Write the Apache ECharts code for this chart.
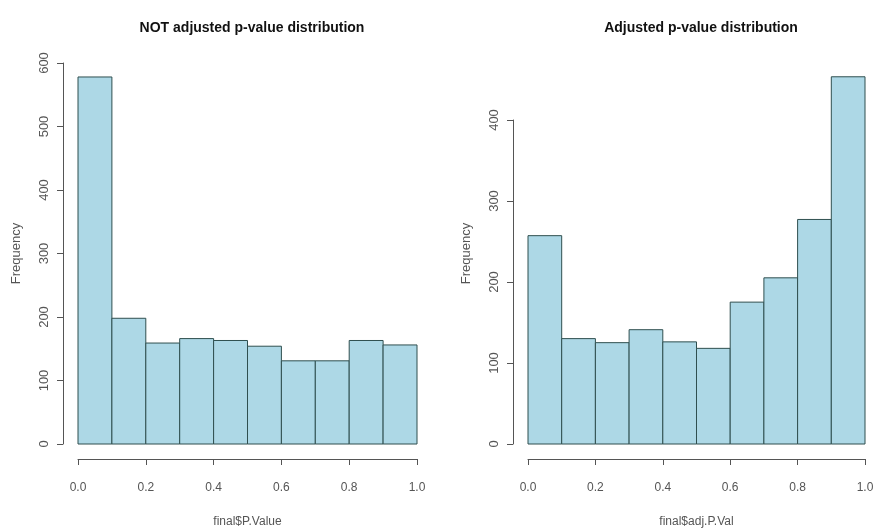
<!DOCTYPE html>
<html>
<head>
<meta charset="utf-8">
<script src="https://cdn.jsdelivr.net/npm/echarts@6/dist/echarts.min.js"></script>
<style>html,body{margin:0;padding:0;background:#fff}#c{width:874px;height:531px}</style>
</head>
<body>
<div id="c"></div>
<script>
var binStarts = [0.0, 0.1, 0.2, 0.3, 0.4, 0.5, 0.6, 0.7, 0.8, 0.9];
var binEnds   = [0.1, 0.2, 0.3, 0.4, 0.5, 0.6, 0.7, 0.8, 0.9, 1.0];
var notAdjustedCounts = [578, 198, 159, 166, 163, 154, 131, 131, 163, 156];
var adjustedCounts    = [257, 130, 125, 141, 126, 118, 175, 205, 277, 453];
var titles = ['NOT adjusted p-value distribution', 'Adjusted p-value distribution'];
var xNames = ['final$P.Value', 'final$adj.P.Val'];
var yName = 'Frequency';

function toData(counts){
  return counts.map(function(c,i){ return [binStarts[i], binEnds[i], c]; });
}
function renderBar(params, api){
  var p0 = api.coord([api.value(0), api.value(2)]);
  var p1 = api.coord([api.value(1), 0]);
  return {
    type: 'rect',
    shape: {x: p0[0], y: p0[1], width: p1[0]-p0[0], height: p1[1]-p0[1]},
    style: {fill: '#ADD8E6', stroke: '#2F4F4F', lineWidth: 1}
  };
}
var axisColor = '#555';
var font = 'Liberation Sans';
function xAxisDef(gi, nameIdx){
  return {
    type: 'value', gridIndex: gi, min: 0, max: 1, interval: 0.2, offset: 15,
    axisLine: {show: true, onZero: false, lineStyle: {color: axisColor}},
    axisTick: {show: true, length: 6, lineStyle: {color: axisColor}},
    axisLabel: {margin: 23, color: '#555', fontSize: 12, fontFamily: font,
                formatter: function(v){ return v.toFixed(1); }},
    splitLine: {show: false},
    name: xNames[nameIdx], nameLocation: 'middle', nameGap: 57,
    nameTextStyle: {color: '#555', fontSize: 12, fontFamily: font}
  };
}
function yAxisDef(gi, max, interval, withName){
  return {
    type: 'value', gridIndex: gi, min: 0, max: max, interval: interval, offset: 15,
    axisLine: {show: true, onZero: false, lineStyle: {color: axisColor}},
    axisTick: {show: true, length: 6, lineStyle: {color: axisColor}},
    axisLabel: {rotate: 90, margin: 12, color: '#555', fontSize: 13, fontFamily: font},
    splitLine: {show: false},
    name: withName ? yName : '', nameLocation: 'middle', nameGap: 40, nameRotate: 90,
    nameTextStyle: {color: '#555', fontSize: 13, fontFamily: font}
  };
}
var chart = echarts.init(document.getElementById('c'));
chart.setOption({
  backgroundColor: '#fff',
  animation: false,
  title: [
    {text: titles[0], left: 247, top: 16, textAlign: 'center',
     textStyle: {fontSize: 14, fontWeight: 'bold', color: '#111', fontFamily: font}},
    {text: titles[1], left: 696, top: 16, textAlign: 'center',
     textStyle: {fontSize: 14, fontWeight: 'bold', color: '#111', fontFamily: font}}
  ],
  grid: [
    {left: 78, width: 339, top: 63, height: 381, outerBoundsMode: 'none', containLabel: false},
    {left: 528, width: 337, top: 63, height: 381, outerBoundsMode: 'none', containLabel: false},
    {left: 528, width: 337, top: 120, height: 324, outerBoundsMode: 'none', containLabel: false}
  ],
  xAxis: [
    xAxisDef(0, 0),
    xAxisDef(1, 1),
    {type: 'value', gridIndex: 2, min: 0, max: 1, show: false}
  ],
  yAxis: [
    yAxisDef(0, 600, 100, true),
    {type: 'value', gridIndex: 1, min: 0, max: 470, offset: 15,
     axisLine: {show: false, onZero: false}, axisTick: {show: false}, axisLabel: {show: false},
     splitLine: {show: false},
     name: yName, nameLocation: 'middle', nameGap: 40, nameRotate: 90,
     nameTextStyle: {color: '#555', fontSize: 13, fontFamily: font}},
    yAxisDef(2, 400, 100, false)
  ],
  series: [
    {type: 'custom', xAxisIndex: 0, yAxisIndex: 0, renderItem: renderBar, data: toData(notAdjustedCounts)},
    {type: 'custom', xAxisIndex: 1, yAxisIndex: 1, renderItem: renderBar, data: toData(adjustedCounts)}
  ]
});
</script>
</body>
</html>
